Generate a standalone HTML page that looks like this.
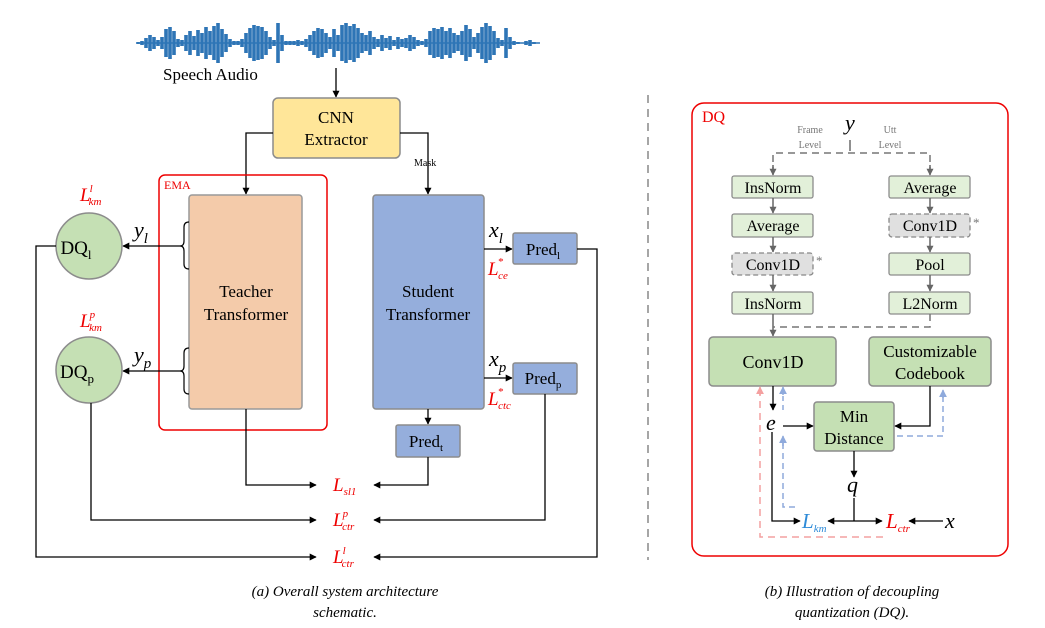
<!DOCTYPE html>
<html><head><meta charset="utf-8"><style>
html,body{margin:0;padding:0;background:#fff;}
svg{display:block;font-family:"Liberation Serif",serif;}
</style></head><body>
<svg width="1045" height="628" viewBox="0 0 1045 628" xmlns="http://www.w3.org/2000/svg">
<defs>
<marker id="ab" viewBox="0 0 10 10" refX="9" refY="5" markerWidth="7" markerHeight="7" orient="auto-start-reverse" markerUnits="userSpaceOnUse"><path d="M0,0 L10,5 L0,10 z" fill="#000"/></marker>
<marker id="ag" viewBox="0 0 10 10" refX="9" refY="5" markerWidth="7" markerHeight="7" orient="auto" markerUnits="userSpaceOnUse"><path d="M0,0 L10,5 L0,10 z" fill="#666"/></marker>
<marker id="abl" viewBox="0 0 10 10" refX="9" refY="5" markerWidth="8" markerHeight="8" orient="auto" markerUnits="userSpaceOnUse"><path d="M0,0 L10,5 L0,10 z" fill="#8faadc"/></marker>
<marker id="ar" viewBox="0 0 10 10" refX="9" refY="5" markerWidth="8" markerHeight="8" orient="auto" markerUnits="userSpaceOnUse"><path d="M0,0 L10,5 L0,10 z" fill="#f4a0a0"/></marker>
</defs>

<!-- waveform -->
<line x1="138" y1="43" x2="540" y2="43" stroke="#2e75b6" stroke-width="1.5"/>
<path stroke="#2e75b6" stroke-width="3.6" fill="none" d="M138,42V44 M142,41V45 M146,38V48 M150,35V51 M154,37V49 M158,40V46 M162,37V49 M166,29V57 M170,27V59 M174,31V55 M178,39V47 M182,40V46 M186,35V51 M190,31V55 M194,36V50 M198,30V56 M202,33V53 M206,27V59 M210,31V55 M214,26V60 M218,23V63 M222,29V57 M226,34V52 M230,39V47 M234,41V45 M238,41V45 M242,39V47 M246,33V53 M250,28V58 M254,25V61 M258,26V60 M262,27V59 M266,31V55 M270,37V49 M274,40V46 M278,23V63 M282,35V51 M286,41V45 M290,41V45 M294,41V45 M298,40V46 M302,41V45 M306,39V47 M310,35V51 M314,31V55 M318,28V58 M322,29V57 M326,33V53 M330,37V49 M334,29V57 M338,35V51 M342,25V61 M346,23V63 M350,26V60 M354,24V62 M358,28V58 M362,33V53 M366,35V51 M370,31V55 M374,37V49 M378,39V47 M382,35V51 M386,38V48 M390,36V50 M394,40V46 M398,37V49 M402,39V47 M406,38V48 M410,35V51 M414,37V49 M418,40V46 M422,41V45 M426,39V47 M430,31V55 M434,28V58 M438,29V57 M442,27V59 M446,31V55 M450,28V58 M454,33V53 M458,35V51 M462,31V55 M466,25V61 M470,29V57 M474,37V49 M478,33V53 M482,27V59 M486,23V63 M490,26V60 M494,31V55 M498,38V48 M502,40V46 M506,28V58 M510,37V49 M514,41V45 M518,42V44 M526,41V45 M530,40V46 M534,42V44"/>
<text x="163" y="80" font-size="17">Speech Audio</text>

<!-- CNN -->
<line x1="336" y1="68" x2="336" y2="97" stroke="#000" stroke-width="1.3" marker-end="url(#ab)"/>
<rect x="273" y="98" width="127" height="60" rx="5" fill="#ffe699" stroke="#8c8c8c" stroke-width="1.5"/>
<text x="336" y="123" font-size="17" text-anchor="middle">CNN</text>
<text x="336" y="145" font-size="17" text-anchor="middle">Extractor</text>
<polyline points="273,133 246,133 246,194" fill="none" stroke="#000" stroke-width="1.3" marker-end="url(#ab)"/>
<polyline points="400,133 428,133 428,194" fill="none" stroke="#000" stroke-width="1.3" marker-end="url(#ab)"/>
<text x="414" y="166" font-size="10">Mask</text>

<!-- EMA -->
<rect x="159" y="175" width="168" height="255" rx="6" fill="none" stroke="#e00" stroke-width="1.5"/>
<text x="164" y="189" font-size="12" fill="#e00">EMA</text>
<rect x="189" y="195" width="113" height="214" rx="3" fill="#f4cbaa" stroke="#999" stroke-width="1.5"/>
<text x="246" y="297" font-size="17" text-anchor="middle">Teacher</text>
<text x="246" y="320" font-size="17" text-anchor="middle">Transformer</text>

<!-- braces -->
<path d="M189,222 Q184,222 184,227 V241 Q184,246 180,246 Q184,246 184,251 V264 Q184,269 189,269" fill="none" stroke="#000" stroke-width="1.2"/>
<path d="M189,348 Q184,348 184,353 V366 Q184,371 180,371 Q184,371 184,376 V389 Q184,394 189,394" fill="none" stroke="#000" stroke-width="1.2"/>
<line x1="180" y1="246" x2="123" y2="246" stroke="#000" stroke-width="1.3" marker-end="url(#ab)"/>
<line x1="180" y1="371" x2="123" y2="371" stroke="#000" stroke-width="1.3" marker-end="url(#ab)"/>
<text x="134" y="237" font-size="22" font-style="italic">y<tspan font-size="15" dy="6">l</tspan></text>
<text x="134" y="362" font-size="22" font-style="italic">y<tspan font-size="15" dy="6">p</tspan></text>

<!-- DQ circles -->
<circle cx="89" cy="246" r="33" fill="#c5e0b4" stroke="#8c8c8c" stroke-width="1.5"/>
<text x="76" y="254" font-size="19" text-anchor="middle">DQ<tspan font-size="13" dy="5">l</tspan></text>
<circle cx="89" cy="370" r="33" fill="#c5e0b4" stroke="#8c8c8c" stroke-width="1.5"/>
<text x="77" y="378" font-size="19" text-anchor="middle">DQ<tspan font-size="13" dy="5">p</tspan></text>
<text x="80" y="201" font-size="19" font-style="italic" fill="#e00">L<tspan font-size="11" dy="-9" dx="-1">l</tspan><tspan font-size="11" dy="13" dx="-4">km</tspan></text>
<text x="80" y="327" font-size="19" font-style="italic" fill="#e00">L<tspan font-size="11" dy="-9" dx="-1">p</tspan><tspan font-size="11" dy="13" dx="-6">km</tspan></text>

<!-- Student -->
<rect x="373" y="195" width="111" height="214" rx="3" fill="#95aedc" stroke="#8c8c8c" stroke-width="1.5"/>
<text x="428" y="297" font-size="17" text-anchor="middle">Student</text>
<text x="428" y="320" font-size="17" text-anchor="middle">Transformer</text>
<line x1="484" y1="249" x2="512" y2="249" stroke="#000" stroke-width="1.3" marker-end="url(#ab)"/>
<line x1="484" y1="378" x2="512" y2="378" stroke="#000" stroke-width="1.3" marker-end="url(#ab)"/>
<text x="489" y="237" font-size="22" font-style="italic">x<tspan font-size="15" dy="6">l</tspan></text>
<text x="489" y="366" font-size="22" font-style="italic">x<tspan font-size="15" dy="6">p</tspan></text>
<text x="488" y="275" font-size="19" font-style="italic" fill="#e00">L<tspan font-size="11" dy="-10" dx="-1">*</tspan><tspan font-size="11" dy="14" dx="-5">ce</tspan></text>
<text x="488" y="405" font-size="19" font-style="italic" fill="#e00">L<tspan font-size="11" dy="-10" dx="-1">*</tspan><tspan font-size="11" dy="14" dx="-5">ctc</tspan></text>

<rect x="513" y="233" width="64" height="31" rx="2" fill="#95aedc" stroke="#8c8c8c" stroke-width="1.5"/>
<text x="543" y="255" font-size="17" text-anchor="middle">Pred<tspan font-size="11" dy="4">l</tspan></text>
<rect x="513" y="363" width="64" height="31" rx="2" fill="#95aedc" stroke="#8c8c8c" stroke-width="1.5"/>
<text x="543" y="384" font-size="17" text-anchor="middle">Pred<tspan font-size="11" dy="4">p</tspan></text>
<line x1="428" y1="409" x2="428" y2="424" stroke="#000" stroke-width="1.3" marker-end="url(#ab)"/>
<rect x="396" y="425" width="64" height="32" rx="2" fill="#95aedc" stroke="#8c8c8c" stroke-width="1.5"/>
<text x="426" y="447" font-size="17" text-anchor="middle">Pred<tspan font-size="11" dy="4">t</tspan></text>

<!-- loss connectors -->
<polyline points="246,409 246,485 316,485" fill="none" stroke="#000" stroke-width="1.3" marker-end="url(#ab)"/>
<polyline points="428,457 428,485 374,485" fill="none" stroke="#000" stroke-width="1.3" marker-end="url(#ab)"/>
<polyline points="91,403 91,520 316,520" fill="none" stroke="#000" stroke-width="1.3" marker-end="url(#ab)"/>
<polyline points="545,394 545,520 374,520" fill="none" stroke="#000" stroke-width="1.3" marker-end="url(#ab)"/>
<polyline points="56,246 36,246 36,557 316,557" fill="none" stroke="#000" stroke-width="1.3" marker-end="url(#ab)"/>
<polyline points="577,249 597,249 597,557 374,557" fill="none" stroke="#000" stroke-width="1.3" marker-end="url(#ab)"/>
<text x="333" y="491" font-size="19" font-style="italic" fill="#e00">L<tspan font-size="11" dy="4">sl1</tspan></text>
<text x="333" y="526" font-size="19" font-style="italic" fill="#e00">L<tspan font-size="11" dy="-9" dx="-1">p</tspan><tspan font-size="11" dy="13" dx="-6">ctr</tspan></text>
<text x="333" y="563" font-size="19" font-style="italic" fill="#e00">L<tspan font-size="11" dy="-9" dx="-1">l</tspan><tspan font-size="11" dy="13" dx="-4">ctr</tspan></text>

<!-- separator -->
<line x1="648" y1="95" x2="648" y2="560" stroke="#888" stroke-width="1.5" stroke-dasharray="8,6"/>

<!-- DQ panel -->
<rect x="692" y="103" width="316" height="453" rx="12" fill="none" stroke="#e00" stroke-width="1.5"/>
<text x="702" y="122" font-size="16" fill="#e00">DQ</text>
<text x="845" y="130" font-size="22" font-style="italic">y</text>
<text x="810" y="133" font-size="10" fill="#777" text-anchor="middle">Frame</text>
<text x="810" y="148" font-size="10" fill="#777" text-anchor="middle">Level</text>
<text x="890" y="133" font-size="10" fill="#777" text-anchor="middle">Utt</text>
<text x="890" y="148" font-size="10" fill="#777" text-anchor="middle">Level</text>
<line x1="850" y1="140" x2="850" y2="151" stroke="#555" stroke-width="1.3"/>
<polyline points="773,174 773,153 930,153 930,174" fill="none" stroke="#777" stroke-width="1.5" stroke-dasharray="7,5"/>
<line x1="773" y1="165" x2="773" y2="175" stroke="#666" stroke-width="1.5" marker-end="url(#ag)"/>
<line x1="930" y1="165" x2="930" y2="175" stroke="#666" stroke-width="1.5" marker-end="url(#ag)"/>

<g font-size="16" text-anchor="middle">
<rect x="732" y="176" width="81" height="22" rx="2" fill="#e2f0d9" stroke="#8c8c8c" stroke-width="1.3"/><text x="773" y="193">InsNorm</text>
<rect x="732" y="214" width="81" height="23" rx="2" fill="#e2f0d9" stroke="#8c8c8c" stroke-width="1.3"/><text x="773" y="231">Average</text>
<rect x="732" y="253" width="81" height="22" rx="3" fill="#e0e0e0" stroke="#888" stroke-width="1.3" stroke-dasharray="5,3"/><text x="773" y="270">Conv1D</text>
<rect x="732" y="292" width="81" height="22" rx="2" fill="#e2f0d9" stroke="#8c8c8c" stroke-width="1.3"/><text x="773" y="309">InsNorm</text>
<rect x="889" y="176" width="81" height="22" rx="2" fill="#e2f0d9" stroke="#8c8c8c" stroke-width="1.3"/><text x="930" y="193">Average</text>
<rect x="889" y="214" width="81" height="23" rx="3" fill="#e0e0e0" stroke="#888" stroke-width="1.3" stroke-dasharray="5,3"/><text x="930" y="231">Conv1D</text>
<rect x="889" y="253" width="81" height="22" rx="2" fill="#e2f0d9" stroke="#8c8c8c" stroke-width="1.3"/><text x="930" y="270">Pool</text>
<rect x="889" y="292" width="81" height="22" rx="2" fill="#e2f0d9" stroke="#8c8c8c" stroke-width="1.3"/><text x="930" y="309">L2Norm</text>
</g>
<text x="816" y="265" font-size="13" fill="#777">*</text>
<text x="973" y="227" font-size="13" fill="#777">*</text>
<g stroke="#666" stroke-width="1.5">
<line x1="773" y1="198" x2="773" y2="213" marker-end="url(#ag)"/>
<line x1="773" y1="237" x2="773" y2="252" marker-end="url(#ag)"/>
<line x1="773" y1="275" x2="773" y2="291" marker-end="url(#ag)"/>
<line x1="930" y1="198" x2="930" y2="213" marker-end="url(#ag)"/>
<line x1="930" y1="237" x2="930" y2="252" marker-end="url(#ag)"/>
<line x1="930" y1="275" x2="930" y2="291" marker-end="url(#ag)"/>
<line x1="773" y1="314" x2="773" y2="336" marker-end="url(#ag)"/>
</g>
<polyline points="930,314 930,327 773,327" fill="none" stroke="#777" stroke-width="1.5" stroke-dasharray="7,5"/>

<rect x="709" y="337" width="127" height="49" rx="4" fill="#c5e0b4" stroke="#8c8c8c" stroke-width="1.5"/>
<text x="773" y="368" font-size="18" text-anchor="middle">Conv1D</text>
<rect x="869" y="337" width="122" height="49" rx="4" fill="#c5e0b4" stroke="#8c8c8c" stroke-width="1.5"/>
<text x="930" y="357" font-size="17" text-anchor="middle">Customizable</text>
<text x="930" y="379" font-size="17" text-anchor="middle">Codebook</text>
<rect x="814" y="402" width="80" height="49" rx="3" fill="#c5e0b4" stroke="#8c8c8c" stroke-width="1.5"/>
<text x="854" y="422" font-size="17" text-anchor="middle">Min</text>
<text x="854" y="444" font-size="17" text-anchor="middle">Distance</text>

<!-- dashed gradients -->
<polyline points="883,537 760,537 760,392" fill="none" stroke="#f4a0a0" stroke-width="1.5" stroke-dasharray="7,5"/>
<line x1="760" y1="395" x2="760" y2="387" stroke="#f4a0a0" stroke-width="1.5" marker-end="url(#ar)"/>
<line x1="783" y1="410" x2="783" y2="392" stroke="#8faadc" stroke-width="1.5" stroke-dasharray="5,4"/>
<line x1="783" y1="395" x2="783" y2="387" stroke="#8faadc" stroke-width="1.5" marker-end="url(#abl)"/>
<polyline points="795,507 783,507 783,442" fill="none" stroke="#8faadc" stroke-width="1.5" stroke-dasharray="6,4"/>
<line x1="783" y1="446" x2="783" y2="436" stroke="#8faadc" stroke-width="1.5" marker-end="url(#abl)"/>
<polyline points="897,436 943,436 943,396" fill="none" stroke="#8faadc" stroke-width="1.5" stroke-dasharray="6,4"/>
<line x1="943" y1="398" x2="943" y2="390" stroke="#8faadc" stroke-width="1.5" marker-end="url(#abl)"/>

<!-- solid flows -->
<line x1="773" y1="386" x2="773" y2="410" stroke="#000" stroke-width="1.3" marker-end="url(#ab)"/>
<text x="766" y="430" font-size="22" font-style="italic">e</text>
<line x1="783" y1="426" x2="813" y2="426" stroke="#000" stroke-width="1.3" marker-end="url(#ab)"/>
<polyline points="930,386 930,426 895,426" fill="none" stroke="#000" stroke-width="1.3" marker-end="url(#ab)"/>
<line x1="854" y1="451" x2="854" y2="477" stroke="#000" stroke-width="1.3" marker-end="url(#ab)"/>
<text x="847" y="492" font-size="22" font-style="italic">q</text>
<polyline points="772,432 772,521 800,521" fill="none" stroke="#000" stroke-width="1.3" marker-end="url(#ab)"/>
<line x1="854" y1="498" x2="854" y2="521" stroke="#000" stroke-width="1.3"/>
<line x1="854" y1="521" x2="828" y2="521" stroke="#000" stroke-width="1.3" marker-end="url(#ab)"/>
<line x1="854" y1="521" x2="882" y2="521" stroke="#000" stroke-width="1.3" marker-end="url(#ab)"/>
<line x1="943" y1="521" x2="909" y2="521" stroke="#000" stroke-width="1.3" marker-end="url(#ab)"/>
<text x="802" y="528" font-size="21" font-style="italic" fill="#2e8bd8">L<tspan font-size="11" dy="4">km</tspan></text>
<text x="886" y="528" font-size="21" font-style="italic" fill="#e00">L<tspan font-size="11" dy="4">ctr</tspan></text>
<text x="945" y="528" font-size="22" font-style="italic">x</text>

<!-- captions -->
<g font-size="15" font-style="italic" text-anchor="middle">
<text x="345" y="596">(a) Overall system architecture</text>
<text x="345" y="617">schematic.</text>
<text x="852" y="596">(b) Illustration of decoupling</text>
<text x="852" y="617">quantization (DQ).</text>
</g>
</svg>
</body></html>
